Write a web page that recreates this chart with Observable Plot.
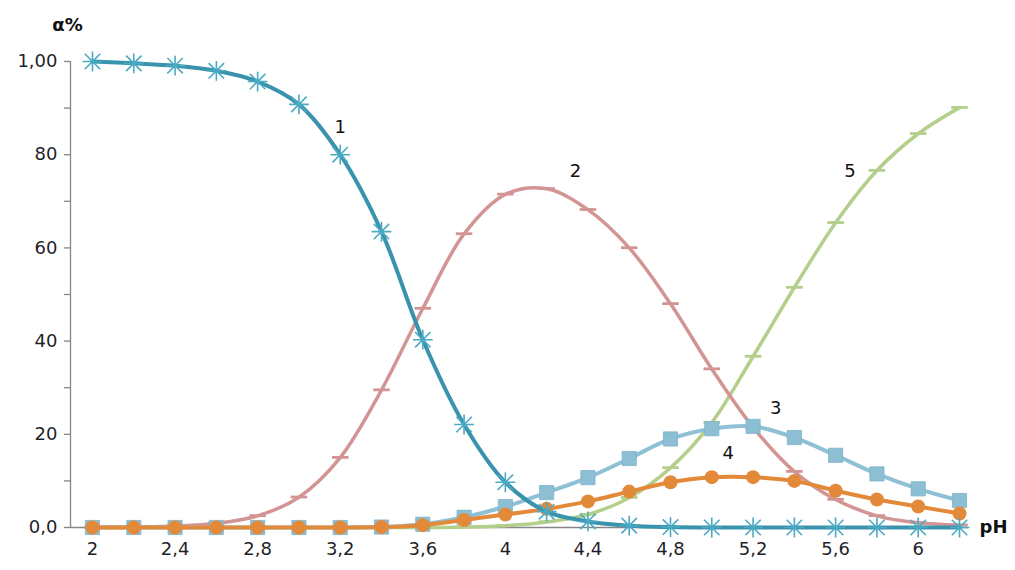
<!DOCTYPE html>
<html>
<head>
<meta charset="utf-8">
<script src="https://cdn.jsdelivr.net/npm/d3@7"></script>
<script src="https://cdn.jsdelivr.net/npm/@observablehq/plot@0.6"></script>
<style>
  html, body { margin: 0; padding: 0; background: #fff; }
  #chart { width: 1015px; height: 570px; }
</style>
</head>
<body>
<div id="chart"></div>
<script>
// ---- data ----
const pH = [2.0, 2.2, 2.4, 2.6, 2.8, 3.0, 3.2, 3.4, 3.6, 3.8, 4.0, 4.2, 4.4, 4.6, 4.8, 5.0, 5.2, 5.4, 5.6, 5.8, 6.0, 6.2];
const series1 = [100, 99.6, 99.1, 98, 95.7, 90.8, 80, 63.5, 40.3, 22.1, 9.7, 3.4, 1.3, 0.4, 0.1, 0, 0, 0, 0, 0, 0, 0];
const series2 = [0, 0.1, 0.3, 0.9, 2.5, 6.5, 15, 29.5, 47, 63, 71.5, 72.7, 68.2, 60, 48, 34, 21.5, 12, 6, 2.5, 1, 0.5];
const series3 = [0, 0, 0, 0, 0, 0, 0, 0.1, 0.7, 2.2, 4.5, 7.5, 10.7, 14.8, 19, 21.2, 21.7, 19.3, 15.5, 11.5, 8.3, 5.8];
const series4 = [0, 0, 0, 0, 0, 0, 0, 0.1, 0.5, 1.6, 2.8, 4, 5.6, 7.7, 9.7, 10.8, 10.8, 10, 7.9, 6, 4.5, 3];
const series5 = [0, 0, 0, 0, 0, 0, 0, 0, 0, 0.1, 0.4, 1.2, 2.8, 6.4, 12.8, 22.5, 36.7, 51.5, 65.4, 76.6, 84.5, 90.1];
const seriesNames = ["1", "2", "3", "4", "5"];
const labelX = [3.2, 4.34, 5.31, 5.08, 5.67];
const labelY = [86, 76.5, 25.5, 16, 76.5];
const yTickValues = [0, 20, 40, 60, 80, 100];
const yTickLabels = ["0,0", "20", "40", "60", "80", "1,00"];
const xTickValues = [2, 2.4, 2.8, 3.2, 3.6, 4, 4.4, 4.8, 5.2, 5.6, 6];
const xTickLabels = ["2", "2,4", "2,8", "3,2", "3,6", "4", "4,4", "4,8", "5,2", "5,6", "6"];
const yMinorTicks = [0, 10, 20, 30, 40, 50, 60, 70, 80, 90, 100];

// ---- tables ----
const mk = (arr) => pH.map((x, i) => ({x, y: arr[i]}));
const d1 = mk(series1), d2 = mk(series2), d3s = mk(series3), d4 = mk(series4), d5 = mk(series5);
const labels = seriesNames.map((t, i) => ({t, x: labelX[i], y: labelY[i]}));

// ---- custom symbols ----
const star = {
  draw(ctx, size) {
    const r = Math.sqrt(size) * 0.62;
    const d = r * 0.78;
    ctx.moveTo(-d, -d); ctx.lineTo(d, d);
    ctx.moveTo(-d, d); ctx.lineTo(d, -d);
    ctx.moveTo(0, -r); ctx.lineTo(0, r);
    ctx.moveTo(-r, 0); ctx.lineTo(r, 0);
  }
};
const dash = {
  draw(ctx, size) {
    const w = Math.sqrt(size) * 0.55;
    ctx.moveTo(-w, -1.6); ctx.lineTo(w, -1.6); ctx.lineTo(w, 1.2); ctx.lineTo(-w, 1.2); ctx.closePath();
  }
};
const square = {
  draw(ctx, size) {
    const s = Math.sqrt(size) / 2;
    ctx.rect(-s, -s, 2 * s, 2 * s);
  }
};

// ---- colors ----
const c1 = "#3a93ad", c1m = "#4aaac4";
const c2 = "#d39594";
const c3 = "#8fc1d6", c3m = "#8cbfd4";
const c4 = "#e3893a";
const c5 = "#b3cf8b";

const xMin = 2 - 22 / 206.43, xMax = 6.2 + 9 / 206.43;
const font = "DejaVu Sans, Verdana, sans-serif";

const chart = Plot.plot({
  width: 1015,
  height: 570,
  marginLeft: 70,
  marginRight: 47,
  marginTop: 61,
  marginBottom: 43,
  style: {fontFamily: font, background: "#fff"},
  x: {type: "linear", domain: [xMin, xMax], axis: null},
  y: {type: "linear", domain: [0, 100], axis: null},
  marks: [
    // axes lines
    Plot.ruleX([xMin], {x: d => d, y1: () => 0, y2: () => 100, stroke: "#868686", strokeWidth: 1.3}),
    Plot.ruleY([0], {y: d => d, x1: () => xMin, x2: () => xMax, stroke: "#868686", strokeWidth: 1.3}),
    // y ticks (every 10)
    Plot.ruleY(yMinorTicks, {y: d => d, x1: () => xMin, x2: () => xMin, insetLeft: -6, stroke: "#868686", strokeWidth: 1.3}),
    // y labels (every 20)
    Plot.text(yTickValues, {
      x: () => xMin, y: d => d, text: (d, i) => yTickLabels[i],
      textAnchor: "end", dx: -13, fontSize: 18, fill: "#1f1f2a"
    }),
    Plot.text(xTickValues, {
      x: d => d, y: () => 0, text: (d, i) => xTickLabels[i],
      dy: 22, fontSize: 18, fill: "#1f1f2a"
    }),
    // series 5
    Plot.line(d5, {x: "x", y: "y", stroke: c5, strokeWidth: 3.5, curve: "catmull-rom"}),
    Plot.dot(d5, {x: "x", y: "y", symbol: dash, r: 8.5, fill: c5, stroke: "none"}),
    // series 2
    Plot.line(d2, {x: "x", y: "y", stroke: c2, strokeWidth: 3.5, curve: "catmull-rom"}),
    Plot.dot(d2, {x: "x", y: "y", symbol: dash, r: 8.5, fill: c2, stroke: "none"}),
    // series 3
    Plot.line(d3s, {x: "x", y: "y", stroke: c3, strokeWidth: 4, curve: "catmull-rom"}),
    Plot.dot(d3s, {x: "x", y: "y", symbol: square, r: 8, fill: c3m, stroke: "#7fb3c9", strokeWidth: 0.8}),
    // series 4
    Plot.line(d4, {x: "x", y: "y", stroke: c4, strokeWidth: 4, curve: "catmull-rom"}),
    Plot.dot(d4, {x: "x", y: "y", r: 7, fill: c4, stroke: "none"}),
    // series 1
    Plot.line(d1, {x: "x", y: "y", stroke: c1, strokeWidth: 4, curve: "catmull-rom"}),
    Plot.dot(d1, {x: "x", y: "y", symbol: star, r: 9, fill: "none", stroke: c1m, strokeWidth: 1.6}),
    // series number labels
    Plot.text(labels, {x: "x", y: "y", text: "t", fontSize: 18, fill: "#111"}),
    // axis titles
    Plot.text(["α%"], {x: () => xMin, y: () => 100, text: d => d, dy: -36, dx: -3, fontSize: 18, fontWeight: "bold", fill: "#111"}),
    Plot.text(["pH"], {x: () => xMax, y: () => 0, text: d => d, dx: 11, textAnchor: "start", fontSize: 18, fontWeight: "bold", fill: "#111"})
  ]
});
document.getElementById("chart").appendChild(chart);
</script>
</body>
</html>
